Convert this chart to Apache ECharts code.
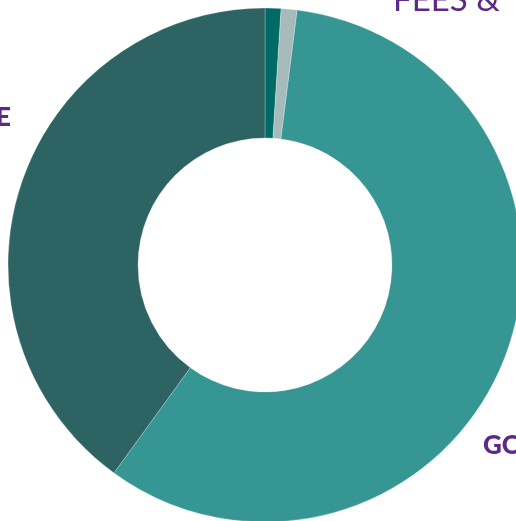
<!DOCTYPE html>
<html><head><meta charset="utf-8">
<script src="https://cdn.jsdelivr.net/npm/echarts@6/dist/echarts.min.js"></script>
<style>html,body{margin:0;padding:0;background:#fff}#c{width:516px;height:521px}</style>
</head><body><div id="c"></div>
<script>
const categories = ['A', 'B', 'C', 'D'];
const values = [1, 1, 58, 40];
const colors = ['#006b66', '#a8bbbb', '#359694', '#2e6363'];
const labelTexts = ['FEES &', 'E', 'GO'];

const chart = echarts.init(document.getElementById('c'), null, {renderer: 'canvas'});
chart.setOption({
  animation: false,
  series: [{
    type: 'pie',
    center: [265, 265],
    radius: [127, 257],
    startAngle: 90,
    clockwise: true,
    label: {show: false},
    labelLine: {show: false},
    itemStyle: {borderColor: 'rgba(255,255,255,0.5)', borderWidth: 0.5},
    emphasis: {disabled: true},
    data: categories.map((c, i) => ({name: c, value: values[i], itemStyle: {color: colors[i]}}))
  }],
  graphic: [
    {type: 'text', left: 393, top: -16, style: {text: labelTexts[0], fill: '#5b2a86', font: '400 33px Lato, "Open Sans", sans-serif'}},
    {type: 'text', right: 505, top: 104, style: {text: labelTexts[1], fill: '#5b2a86', font: '900 27px Lato, "Open Sans", sans-serif', textAlign: 'right'}},
    {type: 'text', left: 483, top: 433, style: {text: labelTexts[2], fill: '#5b2a86', font: '900 26px Lato, "Open Sans", sans-serif'}}
  ]
});
</script></body></html>
